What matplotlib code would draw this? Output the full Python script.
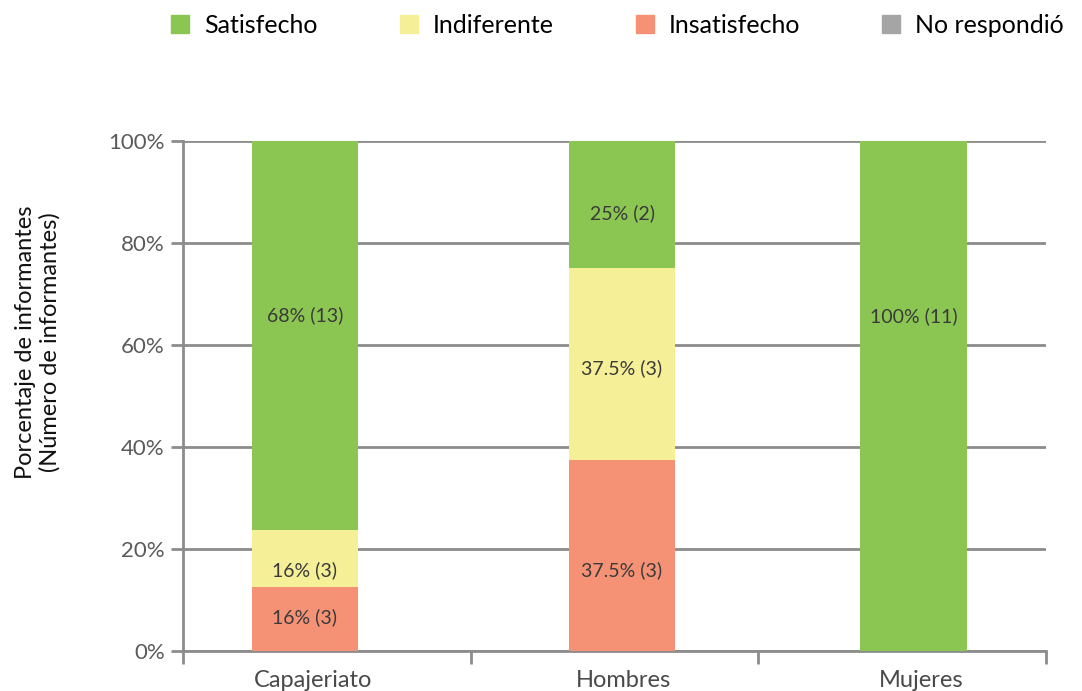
import matplotlib.pyplot as plt
from matplotlib.patches import Patch

# Data
categories = ['Capajeriato', 'Hombres', 'Mujeres']
insatisfecho = [12.5, 37.5, 0]
indiferente = [11.2, 37.5, 0]
satisfecho = [76.3, 25, 100]
no_respondio = [0, 0, 0]

labels_insat = ['16% (3)', '37.5% (3)', '']
labels_indif = ['16% (3)', '37.5% (3)', '']
labels_satis = ['68% (13)', '25% (2)', '100% (11)']

# label heights (percent) as they sit in the picture
label_y_insat = [6.7, 15.9, None]
label_y_indif = [15.9, 55.5, None]
label_y_satis = [65.9, 85.9, 65.7]

c_green = '#8cc652'
c_yellow = '#f5ef97'
c_red = '#f59276'
c_grey = '#a5a5a5'
axis_grey = '#8c8c8c'

bar_x = [0.424, 1.526, 2.538]
label_x = [0.452, 1.53, 2.567]
bar_w = 0.37

plt.rcParams['font.family'] = ['Lato', 'DejaVu Sans']

fig = plt.figure(figsize=(10.82, 6.91), dpi=100)
ax = fig.add_axes([0.169, 0.058, 0.798, 0.738])

bottom2 = [a + b for a, b in zip(insatisfecho, indiferente)]
bottom3 = [a + b for a, b in zip(bottom2, satisfecho)]
ax.bar(bar_x, insatisfecho, width=bar_w, color=c_red, zorder=3)
ax.bar(bar_x, indiferente, width=bar_w, bottom=insatisfecho, color=c_yellow, zorder=3)
ax.bar(bar_x, satisfecho, width=bar_w, bottom=bottom2, color=c_green, zorder=3)
ax.bar(bar_x, no_respondio, width=bar_w, bottom=bottom3, color=c_grey, zorder=3)

for labs, ys in [(labels_insat, label_y_insat), (labels_indif, label_y_indif),
                 (labels_satis, label_y_satis)]:
    for x, lab, y in zip(bar_x, labs, ys):
        if lab:
            ax.text(x, y, lab, ha='center', va='center', fontsize=14,
                    color='#3a3a3a', zorder=4)

ax.set_xlim(0, 3)
ax.set_ylim(0, 100)
ax.set_yticks([0, 20, 40, 60, 80, 100])
ax.set_yticklabels(['0%', '20%', '40%', '60%', '80%', '100%'],
                   fontsize=16, color='#5a5a5a')
ax.set_xticks([0, 1, 2, 3])
ax.set_xticklabels([])
ax.set_xticks(label_x, minor=True)
ax.set_xticklabels(categories, minor=True, fontsize=17, color='#4a4a4a')
ax.tick_params(axis='x', which='minor', length=0, pad=14)
ax.tick_params(axis='x', which='major', length=9, width=2, color=axis_grey)
ax.tick_params(axis='y', length=9, width=2, color=axis_grey, pad=4)

ax.grid(axis='y', color=axis_grey, linewidth=2, zorder=1)
for s in ['top', 'right']:
    ax.spines[s].set_visible(False)
for s in ['left', 'bottom']:
    ax.spines[s].set_color(axis_grey)
    ax.spines[s].set_linewidth(2)

fig.text(0.035, 0.505, 'Porcentaje de informantes\n(Número de informantes)',
         rotation=90, ha='center', va='center', fontsize=17, color='#111111',
         linespacing=1.15)

handles = [Patch(color=c_green, label='Satisfecho'),
           Patch(color=c_yellow, label='Indiferente'),
           Patch(color=c_red, label='Insatisfecho'),
           Patch(color=c_grey, label='No respondió')]
fig.legend(handles=handles, loc='center', bbox_to_anchor=(0.571, 0.963), ncol=4,
           frameon=False, handlelength=0.72, handleheight=0.72,
           handletextpad=0.6, columnspacing=3.28,
           prop={'family': ['Lato', 'DejaVu Sans'], 'size': 18})

fig.savefig('out.png', dpi=100)
